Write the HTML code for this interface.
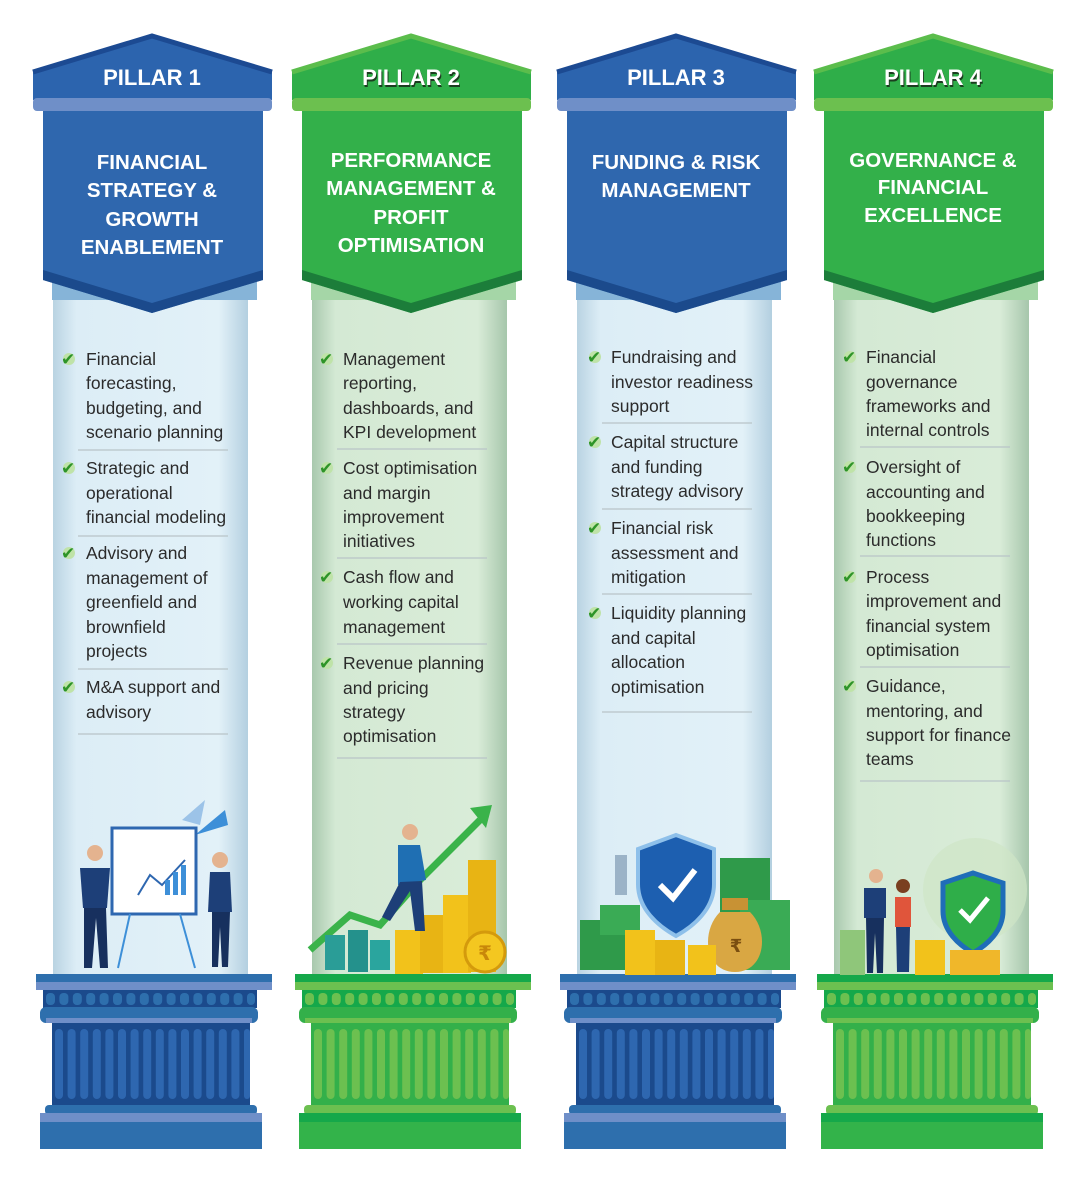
<!DOCTYPE html>
<html><head><meta charset="utf-8"><style>
html,body{margin:0;padding:0;background:#fff}
svg{display:block}
.b{font-family:"Liberation Sans",sans-serif;font-size:17.5px;fill:#2b2b2b}
.h{font-family:"Liberation Sans",sans-serif;font-weight:bold;font-size:20.5px;fill:#fff;text-anchor:middle}
.p{font-family:"Liberation Sans",sans-serif;font-weight:bold;font-size:22px;fill:#fff;text-anchor:middle}
.ps{fill:#1b3d1f}
.ck{font-family:"DejaVu Sans",sans-serif;font-size:17px;fill:#2e9428}
.sep{stroke:#b9c4c8;stroke-width:1.3}
</style></head><body>
<svg width="1080" height="1188" viewBox="0 0 1080 1188" xmlns="http://www.w3.org/2000/svg">
<defs>
<linearGradient id="sb" x1="0" x2="1"><stop offset="0" stop-color="#b9d3e2"/><stop offset=".12" stop-color="#dcedf6"/><stop offset=".85" stop-color="#e2f1f8"/><stop offset="1" stop-color="#b3cfe0"/></linearGradient>
<linearGradient id="sg" x1="0" x2="1"><stop offset="0" stop-color="#a8c8ad"/><stop offset=".12" stop-color="#d4e9d4"/><stop offset=".85" stop-color="#d9ecd8"/><stop offset="1" stop-color="#a6c6ab"/></linearGradient>
<g id="blue">
<rect x="53" y="295" width="195" height="682" fill="url(#sb)"/>
<polygon points="33,72 152,36 272,72 272,100 33,100" fill="#2c64ae"/>
<polyline points="33,72 152,36 272,72" fill="none" stroke="#1c4a92" stroke-width="5"/>
<rect x="33" y="98" width="239" height="13" rx="4" fill="#6f8fc8"/>
<rect x="52" y="282" width="205" height="18" fill="#86b4d8"/>
<polygon points="43,111 263,111 263,280 152,313 43,280" fill="#2f67ae"/>
<polygon points="43,270 152,303 263,270 263,280 152,313 43,280" fill="#1b4a8c"/>
<rect x="36" y="974" width="236" height="10" fill="#2e6fad"/>
<rect x="36" y="982" width="236" height="8" fill="#6f8fc8"/>
<rect x="43" y="990" width="214" height="18" fill="#1b4a8c"/>
<g fill="#2e6fad"><rect x="46" y="993" width="9" height="12" rx="4"/><rect x="59.4" y="993" width="9" height="12" rx="4"/><rect x="72.8" y="993" width="9" height="12" rx="4"/><rect x="86.2" y="993" width="9" height="12" rx="4"/><rect x="99.6" y="993" width="9" height="12" rx="4"/><rect x="113" y="993" width="9" height="12" rx="4"/><rect x="126.4" y="993" width="9" height="12" rx="4"/><rect x="139.8" y="993" width="9" height="12" rx="4"/><rect x="153.2" y="993" width="9" height="12" rx="4"/><rect x="166.6" y="993" width="9" height="12" rx="4"/><rect x="180" y="993" width="9" height="12" rx="4"/><rect x="193.4" y="993" width="9" height="12" rx="4"/><rect x="206.8" y="993" width="9" height="12" rx="4"/><rect x="220.2" y="993" width="9" height="12" rx="4"/><rect x="233.6" y="993" width="9" height="12" rx="4"/><rect x="247" y="993" width="8" height="12" rx="4"/></g>
<rect x="40" y="1007" width="218" height="16" rx="6" fill="#2e6fad"/>
<rect x="46" y="1018" width="206" height="5" fill="#6f8fc8"/>
<rect x="52" y="1023" width="198" height="82" fill="#1b4a8c"/>
<g fill="#2e67b0"><rect x="55" y="1029" width="8" height="70" rx="4"/><rect x="67.6" y="1029" width="8" height="70" rx="4"/><rect x="80.2" y="1029" width="8" height="70" rx="4"/><rect x="92.8" y="1029" width="8" height="70" rx="4"/><rect x="105.4" y="1029" width="8" height="70" rx="4"/><rect x="118" y="1029" width="8" height="70" rx="4"/><rect x="130.6" y="1029" width="8" height="70" rx="4"/><rect x="143.2" y="1029" width="8" height="70" rx="4"/><rect x="155.8" y="1029" width="8" height="70" rx="4"/><rect x="168.4" y="1029" width="8" height="70" rx="4"/><rect x="181" y="1029" width="8" height="70" rx="4"/><rect x="193.6" y="1029" width="8" height="70" rx="4"/><rect x="206.2" y="1029" width="8" height="70" rx="4"/><rect x="218.8" y="1029" width="8" height="70" rx="4"/><rect x="231.4" y="1029" width="8" height="70" rx="4"/><rect x="244" y="1029" width="6" height="70" rx="3"/></g>
<rect x="45" y="1105" width="212" height="10" rx="4" fill="#2e6fad"/>
<rect x="40" y="1113" width="222" height="9" fill="#6f8fc8"/>
<rect x="40" y="1122" width="222" height="27" fill="#2e6fad"/>
</g>
<g id="green">
<rect x="53" y="295" width="195" height="682" fill="url(#sg)"/>
<polygon points="33,72 152,36 272,72 272,100 33,100" fill="#2fae49"/>
<polyline points="33,72 152,36 272,72" fill="none" stroke="#5bbd4c" stroke-width="5"/>
<rect x="33" y="98" width="239" height="13" rx="4" fill="#6cc04f"/>
<rect x="52" y="282" width="205" height="18" fill="#a5d6a7"/>
<polygon points="43,111 263,111 263,280 152,313 43,280" fill="#33b04a"/>
<polygon points="43,270 152,303 263,270 263,280 152,313 43,280" fill="#1c7d3a"/>
<rect x="36" y="974" width="236" height="10" fill="#15a84a"/>
<rect x="36" y="982" width="236" height="8" fill="#6cc050"/>
<rect x="43" y="990" width="214" height="18" fill="#15a84a"/>
<g fill="#6cc050"><rect x="46" y="993" width="9" height="12" rx="4"/><rect x="59.4" y="993" width="9" height="12" rx="4"/><rect x="72.8" y="993" width="9" height="12" rx="4"/><rect x="86.2" y="993" width="9" height="12" rx="4"/><rect x="99.6" y="993" width="9" height="12" rx="4"/><rect x="113" y="993" width="9" height="12" rx="4"/><rect x="126.4" y="993" width="9" height="12" rx="4"/><rect x="139.8" y="993" width="9" height="12" rx="4"/><rect x="153.2" y="993" width="9" height="12" rx="4"/><rect x="166.6" y="993" width="9" height="12" rx="4"/><rect x="180" y="993" width="9" height="12" rx="4"/><rect x="193.4" y="993" width="9" height="12" rx="4"/><rect x="206.8" y="993" width="9" height="12" rx="4"/><rect x="220.2" y="993" width="9" height="12" rx="4"/><rect x="233.6" y="993" width="9" height="12" rx="4"/><rect x="247" y="993" width="8" height="12" rx="4"/></g>
<rect x="40" y="1007" width="218" height="16" rx="6" fill="#33b04a"/>
<rect x="46" y="1018" width="206" height="5" fill="#6cc050"/>
<rect x="52" y="1023" width="198" height="82" fill="#33b04a"/>
<g fill="#6cc050"><rect x="55" y="1029" width="8" height="70" rx="4"/><rect x="67.6" y="1029" width="8" height="70" rx="4"/><rect x="80.2" y="1029" width="8" height="70" rx="4"/><rect x="92.8" y="1029" width="8" height="70" rx="4"/><rect x="105.4" y="1029" width="8" height="70" rx="4"/><rect x="118" y="1029" width="8" height="70" rx="4"/><rect x="130.6" y="1029" width="8" height="70" rx="4"/><rect x="143.2" y="1029" width="8" height="70" rx="4"/><rect x="155.8" y="1029" width="8" height="70" rx="4"/><rect x="168.4" y="1029" width="8" height="70" rx="4"/><rect x="181" y="1029" width="8" height="70" rx="4"/><rect x="193.6" y="1029" width="8" height="70" rx="4"/><rect x="206.2" y="1029" width="8" height="70" rx="4"/><rect x="218.8" y="1029" width="8" height="70" rx="4"/><rect x="231.4" y="1029" width="8" height="70" rx="4"/><rect x="244" y="1029" width="6" height="70" rx="3"/></g>
<rect x="45" y="1105" width="212" height="10" rx="4" fill="#6cc050"/>
<rect x="40" y="1113" width="222" height="9" fill="#15a84a"/>
<rect x="40" y="1122" width="222" height="27" fill="#33b34a"/>
</g>
</defs>

<use href="#blue"/>
<use href="#green" transform="translate(259,0)"/>
<use href="#blue" transform="translate(524,0)"/>
<use href="#green" transform="translate(781,0)"/>

<text class="p" x="152" y="85">PILLAR 1</text>
<text class="p ps" x="412" y="87">PILLAR 2</text><text class="p" x="411" y="85">PILLAR 2</text>
<text class="p" x="676" y="85">PILLAR 3</text>
<text class="p ps" x="934" y="87">PILLAR 4</text><text class="p" x="933" y="85">PILLAR 4</text>

<text class="h" x="152" y="169">FINANCIAL</text><text class="h" x="152" y="197">STRATEGY &amp;</text><text class="h" x="152" y="226">GROWTH</text><text class="h" x="152" y="254">ENABLEMENT</text>
<text class="h" x="411" y="167">PERFORMANCE</text><text class="h" x="411" y="195">MANAGEMENT &amp;</text><text class="h" x="411" y="224">PROFIT</text><text class="h" x="411" y="252">OPTIMISATION</text>
<text class="h" x="676" y="169">FUNDING &amp; RISK</text><text class="h" x="676" y="197">MANAGEMENT</text>
<text class="h" x="933" y="167">GOVERNANCE &amp;</text><text class="h" x="933" y="194">FINANCIAL</text><text class="h" x="933" y="222">EXCELLENCE</text>

<g>
<circle cx="69" cy="359" r="6" fill="#bfe3a8"/><text class="ck" x="61" y="365">✔</text>
<text class="b" x="86" y="365">Financial</text><text class="b" x="86" y="389">forecasting,</text><text class="b" x="86" y="414">budgeting, and</text><text class="b" x="86" y="438">scenario planning</text>
<line class="sep" x1="78" y1="450" x2="228" y2="450"/>
<circle cx="69" cy="468" r="6" fill="#bfe3a8"/><text class="ck" x="61" y="474">✔</text>
<text class="b" x="86" y="474">Strategic and</text><text class="b" x="86" y="499">operational</text><text class="b" x="86" y="523">financial modeling</text>
<line class="sep" x1="78" y1="536" x2="228" y2="536"/>
<circle cx="69" cy="553" r="6" fill="#bfe3a8"/><text class="ck" x="61" y="559">✔</text>
<text class="b" x="86" y="559">Advisory and</text><text class="b" x="86" y="584">management of</text><text class="b" x="86" y="608">greenfield and</text><text class="b" x="86" y="633">brownfield</text><text class="b" x="86" y="657">projects</text>
<line class="sep" x1="78" y1="669" x2="228" y2="669"/>
<circle cx="69" cy="687" r="6" fill="#bfe3a8"/><text class="ck" x="61" y="693">✔</text>
<text class="b" x="86" y="693">M&amp;A support and</text><text class="b" x="86" y="718">advisory</text>
<line class="sep" x1="78" y1="734" x2="228" y2="734"/>
</g>
<g>
<circle cx="327" cy="359" r="6" fill="#bfe3a8"/><text class="ck" x="319" y="365">✔</text>
<text class="b" x="343" y="365">Management</text><text class="b" x="343" y="389">reporting,</text><text class="b" x="343" y="414">dashboards, and</text><text class="b" x="343" y="438">KPI development</text>
<line class="sep" x1="337" y1="449" x2="487" y2="449"/>
<circle cx="327" cy="468" r="6" fill="#bfe3a8"/><text class="ck" x="319" y="474">✔</text>
<text class="b" x="343" y="474">Cost optimisation</text><text class="b" x="343" y="499">and margin</text><text class="b" x="343" y="523">improvement</text><text class="b" x="343" y="547">initiatives</text>
<line class="sep" x1="337" y1="558" x2="487" y2="558"/>
<circle cx="327" cy="577" r="6" fill="#bfe3a8"/><text class="ck" x="319" y="583">✔</text>
<text class="b" x="343" y="583">Cash flow and</text><text class="b" x="343" y="608">working capital</text><text class="b" x="343" y="633">management</text>
<line class="sep" x1="337" y1="644" x2="487" y2="644"/>
<circle cx="327" cy="663" r="6" fill="#bfe3a8"/><text class="ck" x="319" y="669">✔</text>
<text class="b" x="343" y="669">Revenue planning</text><text class="b" x="343" y="694">and pricing</text><text class="b" x="343" y="718">strategy</text><text class="b" x="343" y="742">optimisation</text>
<line class="sep" x1="337" y1="758" x2="487" y2="758"/>
</g>
<g>
<circle cx="595" cy="357" r="6" fill="#bfe3a8"/><text class="ck" x="587" y="363">✔</text>
<text class="b" x="611" y="363">Fundraising and</text><text class="b" x="611" y="388">investor readiness</text><text class="b" x="611" y="412">support</text>
<line class="sep" x1="602" y1="423" x2="752" y2="423"/>
<circle cx="595" cy="442" r="6" fill="#bfe3a8"/><text class="ck" x="587" y="448">✔</text>
<text class="b" x="611" y="448">Capital structure</text><text class="b" x="611" y="473">and funding</text><text class="b" x="611" y="497">strategy advisory</text>
<line class="sep" x1="602" y1="509" x2="752" y2="509"/>
<circle cx="595" cy="528" r="6" fill="#bfe3a8"/><text class="ck" x="587" y="534">✔</text>
<text class="b" x="611" y="534">Financial risk</text><text class="b" x="611" y="559">assessment and</text><text class="b" x="611" y="583">mitigation</text>
<line class="sep" x1="602" y1="594" x2="752" y2="594"/>
<circle cx="595" cy="613" r="6" fill="#bfe3a8"/><text class="ck" x="587" y="619">✔</text>
<text class="b" x="611" y="619">Liquidity planning</text><text class="b" x="611" y="644">and capital</text><text class="b" x="611" y="668">allocation</text><text class="b" x="611" y="693">optimisation</text>
<line class="sep" x1="602" y1="712" x2="752" y2="712"/>
</g>
<g>
<circle cx="850" cy="357" r="6" fill="#bfe3a8"/><text class="ck" x="842" y="363">✔</text>
<text class="b" x="866" y="363">Financial</text><text class="b" x="866" y="388">governance</text><text class="b" x="866" y="412">frameworks and</text><text class="b" x="866" y="436">internal controls</text>
<line class="sep" x1="860" y1="447" x2="1010" y2="447"/>
<circle cx="850" cy="467" r="6" fill="#bfe3a8"/><text class="ck" x="842" y="473">✔</text>
<text class="b" x="866" y="473">Oversight of</text><text class="b" x="866" y="498">accounting and</text><text class="b" x="866" y="522">bookkeeping</text><text class="b" x="866" y="546">functions</text>
<line class="sep" x1="860" y1="556" x2="1010" y2="556"/>
<circle cx="850" cy="577" r="6" fill="#bfe3a8"/><text class="ck" x="842" y="583">✔</text>
<text class="b" x="866" y="583">Process</text><text class="b" x="866" y="607">improvement and</text><text class="b" x="866" y="632">financial system</text><text class="b" x="866" y="656">optimisation</text>
<line class="sep" x1="860" y1="667" x2="1010" y2="667"/>
<circle cx="850" cy="686" r="6" fill="#bfe3a8"/><text class="ck" x="842" y="692">✔</text>
<text class="b" x="866" y="692">Guidance,</text><text class="b" x="866" y="717">mentoring, and</text><text class="b" x="866" y="741">support for finance</text><text class="b" x="866" y="765">teams</text>
<line class="sep" x1="860" y1="781" x2="1010" y2="781"/>
</g>

<g>
<polygon points="182,820 205,800 200,825" fill="#9cc3e8"/>
<polygon points="195,835 225,810 228,825" fill="#3d8fd8"/>
<rect x="112" y="828" width="84" height="86" fill="#fff" stroke="#2e67b0" stroke-width="3"/>
<polyline points="138,895 150,875 162,885 185,860" fill="none" stroke="#2e67b0" stroke-width="2"/>
<rect x="165" y="880" width="5" height="15" fill="#3d8fd8"/><rect x="173" y="872" width="5" height="23" fill="#3d8fd8"/><rect x="181" y="865" width="5" height="30" fill="#3d8fd8"/>
<line x1="130" y1="914" x2="118" y2="968" stroke="#3d8fd8" stroke-width="2"/><line x1="180" y1="914" x2="195" y2="968" stroke="#3d8fd8" stroke-width="2"/>
<circle cx="95" cy="853" r="8" fill="#e4b38f"/><path d="M80 868 h30 l-3 40 h-24z" fill="#1d3f78"/><path d="M84 908 h22 l2 60 h-8 l-4-50 -4 50 h-8z" fill="#17305e"/>
<circle cx="220" cy="860" r="8" fill="#e4b38f"/><path d="M210 872 h20 l2 40 h-24z" fill="#1d3f78"/><path d="M212 912 h18 l-2 55 h-6 l-2-40 -2 40 h-6z" fill="#17305e"/>
</g>
<g>
<polyline points="310,950 350,915 380,925 420,880 480,820" fill="none" stroke="#3ab34a" stroke-width="7"/>
<polygon points="470,808 492,805 486,828" fill="#3ab34a"/>
<rect x="325" y="935" width="20" height="35" fill="#2a9d97"/><rect x="348" y="930" width="20" height="42" fill="#24918c"/><rect x="370" y="940" width="20" height="30" fill="#2aa59e"/>
<rect x="395" y="930" width="28" height="44" fill="#f2c21b"/><rect x="420" y="915" width="28" height="58" fill="#e8b414"/><rect x="443" y="895" width="28" height="78" fill="#f2c21b"/><rect x="468" y="860" width="28" height="112" fill="#e8b414"/>
<circle cx="485" cy="952" r="20" fill="#f4c720" stroke="#d49a0c" stroke-width="3"/>
<text x="485" y="960" text-anchor="middle" font-family="DejaVu Sans,sans-serif" font-size="20" font-weight="bold" fill="#c8870a">₹</text>
<circle cx="410" cy="832" r="8" fill="#e4b38f"/><path d="M398 845 l22 0 6 35 -28 5z" fill="#1f6fb3"/><path d="M400 882 l-18 35 8 4 20-30 5 40 10 0 -3-50z" fill="#1d3f78"/>
</g>
<g>
<rect x="615" y="855" width="12" height="40" fill="#9bb3c7"/>
<rect x="580" y="920" width="50" height="50" fill="#2f9a4a"/><rect x="600" y="905" width="40" height="30" fill="#3aab55"/>
<rect x="720" y="858" width="50" height="60" fill="#2f9a4a"/><rect x="740" y="900" width="50" height="70" fill="#3aab55"/>
<path d="M676 835 l38 14 v35 c0 25 -20 42 -38 52 c-18 -10 -38 -27 -38 -52 v-35z" fill="#1d5fb0" stroke="#8ec0ea" stroke-width="4"/>
<polyline points="660,885 673,898 695,870" fill="none" stroke="#fff" stroke-width="6"/>
<path d="M720 912 c-20 20 -15 60 15 60 c30 0 35 -40 15 -60z" fill="#d9a743"/><rect x="722" y="898" width="26" height="12" fill="#c89234"/>
<text x="736" y="952" text-anchor="middle" font-family="DejaVu Sans,sans-serif" font-size="18" font-weight="bold" fill="#7a4e10">₹</text>
<rect x="625" y="930" width="30" height="45" fill="#f2c21b"/><rect x="655" y="940" width="30" height="35" fill="#e8b414"/><rect x="688" y="945" width="28" height="30" fill="#f2c21b"/>
</g>
<g>
<circle cx="975" cy="890" r="52" fill="#cfe6c6" opacity=".7"/>
<path d="M973 873 l30 10 v28 c0 20 -16 34 -30 42 c-14 -8 -30 -22 -30 -42 v-28z" fill="#2fae49" stroke="#1f6db8" stroke-width="5"/>
<polyline points="960,910 970,920 988,898" fill="none" stroke="#fff" stroke-width="5"/>
<rect x="915" y="940" width="30" height="35" fill="#f2c21b"/><rect x="950" y="950" width="50" height="25" fill="#f0b72a"/>
<rect x="840" y="930" width="25" height="45" fill="#8fc67a"/>
<circle cx="876" cy="876" r="7" fill="#e4b38f"/><path d="M864 888 h22 v30 h-22z" fill="#1d3f78"/><path d="M866 918 h18 l-1 55 h-6 l-2-40 -2 40 h-6z" fill="#17305e"/>
<circle cx="903" cy="886" r="7" fill="#7a3f20"/><path d="M895 897 h16 v30 h-16z" fill="#e0553b"/><path d="M896 927 h14 l-1 45 h-12z" fill="#1d3f78"/>
</g>
</svg>
</body></html>
